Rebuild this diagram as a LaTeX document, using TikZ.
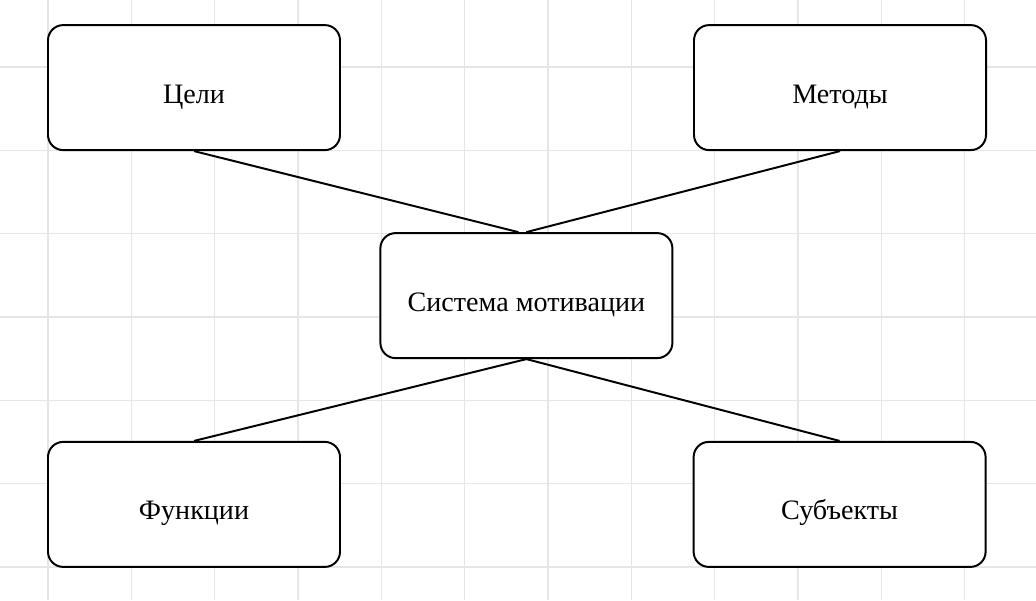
\documentclass[tikz,border=0pt]{standalone}
\usepackage{fontspec}
\setmainfont{Liberation Serif}
\usepackage{tikz}
\usetikzlibrary{positioning,calc}
\definecolor{gridgray}{RGB}{230,230,230}

\begin{document}
\begin{tikzpicture}[
  box/.style={
    draw, rectangle, rounded corners=0.38cm,
    line width=1.4pt, fill=white,
    minimum width=7.3cm,
    minimum height=3.125cm,
    align=center,
    text height=22pt, text depth=0pt,
    font=\fontsize{20}{24}\selectfont
  },
  link/.style={line width=1.4pt},
  gridline/.style={gridgray, line width=0.8pt}
]

\useasboundingbox (0,0) rectangle (25.9,15);
\fill[white] (0,0) rectangle (25.9,15);

% ----------------------
% Background grid
% ----------------------
\foreach \i in {0,...,11}
  \draw[gridline] ({1.2+2.0833*\i},0) -- ++(0,15);
\foreach \j in {0,...,6}
  \draw[gridline] (0,{0.825+2.0833*\j}) -- ++(25.9,0);

% ----------------------
% Centre box
% ----------------------
\node[box] (sys) at (13.16,7.61) {Система мотивации};

% ----------------------
% Corner boxes
% ----------------------
\node[box] (goals) at (4.85,12.81) {Цели};
\node[box] (methods) at (21.0,12.81) {Методы};
\node[box] (functions) at (4.85,2.39) {Функции};
\node[box] (subjects) at (20.99,2.39) {Субъекты};

% ----------------------
% Links
% ----------------------
\draw[link] (goals.south) -- ($(sys.north)+(-0.2,0)$);
\draw[link] (methods.south) -- (sys.north);
\draw[link] (functions.north) -- (sys.south);
\draw[link] (subjects.north) -- (sys.south);

\end{tikzpicture}
\end{document}
